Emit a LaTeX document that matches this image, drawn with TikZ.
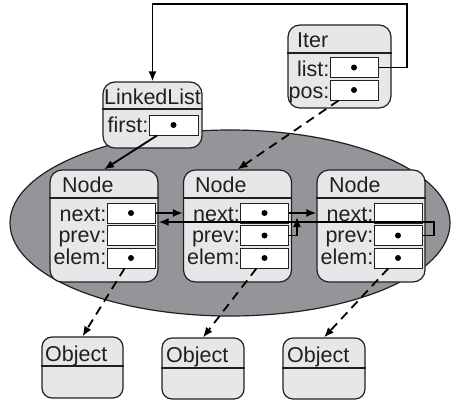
\documentclass[tikz,border=0pt]{standalone}
\usepackage{fontspec}
\setmainfont{Liberation Sans}
\usetikzlibrary{arrows.meta}
\definecolor{boxgray}{RGB}{230,231,232}
\definecolor{blobgray}{RGB}{147,149,152}
\definecolor{ink}{RGB}{35,31,32}

\begin{document}
\begin{tikzpicture}[x=1pt, y=-1pt, >={Latex[length=10pt,width=8pt]},
	font=\fontsize{21.5}{25}\selectfont, text=ink,
	classbox/.style={draw=ink, fill=boxgray, line width=1.2pt, rounded corners=12pt, inner sep=0pt},
	field/.style={draw=ink, fill=white, line width=1pt, minimum width=48pt, minimum height=20pt, inner sep=0pt},
	lbl/.style={inner sep=0pt},
	sep/.style={draw=ink, line width=1.2pt},
	ptr/.style={->, line width=1.8pt, draw=black},
	dptr/.style={ptr, dash pattern=on 9pt off 6pt}]
	\useasboundingbox (0,0) rectangle (457,402);

	\draw[ink, fill=blobgray, line width=1.2pt] (230,223) ellipse [x radius=220, y radius=93];

	% Iter
	\node[classbox, minimum width=103pt, minimum height=83pt] (iter) at (339.5,66.5) {};
	\node[lbl, anchor=base west] (itertitle) at (297,47) {Iter};
	\draw[sep] (iter.west |- 0,53) -- (iter.east |- 0,53);
	\node[field] (itlist) at (354,67.5) {};
	\node[field] (itpos) at (354,90) {};
	\node[lbl, anchor=base east] (itlistlbl) at ([yshift=2pt]itlist.south west) {list:};
	\node[lbl, anchor=base east] (itposlbl) at ([yshift=2pt]itpos.south west) {pos:};

	% LinkedList
	\node[classbox, minimum width=99pt, minimum height=66pt] (linked) at (152.5,115) {};
	\node[lbl, anchor=base] (linkedtitle) at (152.5,104) {LinkedList};
	\draw[sep] (linked.west |- 0,109) -- (linked.east |- 0,109);
	\node[field, minimum width=49pt] (llfirst) at (173.5,125) {};
	\node[lbl, anchor=base east] (llfirstlbl) at ([yshift=3pt]llfirst.south west) {first:};

	% Node 1
	\node[classbox, minimum width=108pt, minimum height=112pt] (node1) at (104,226) {};
	\node[lbl, anchor=base west] (node1title) at (62,192) {Node};
	\draw[sep] (node1.west |- 0,198) -- (node1.east |- 0,198);
	\node[field] (n1next) at (131,213) {};
	\node[field] (n1prev) at (131,235.5) {};
	\node[field] (n1elem) at (131,258) {};
	\node[lbl, anchor=base east] (n1nextlbl) at ([yshift=2pt]n1next.south west) {next:};
	\node[lbl, anchor=base east] (n1prevlbl) at ([yshift=4pt]n1prev.south west) {prev:};
	\node[lbl, anchor=base east] (n1elemlbl) at ([yshift=4pt]n1elem.south west) {elem:};

	% Node 2
	\node[classbox, minimum width=108pt, minimum height=112pt] (node2) at (237.5,226) {};
	\node[lbl, anchor=base west] (node2title) at (195,192) {Node};
	\draw[sep] (node2.west |- 0,198) -- (node2.east |- 0,198);
	\node[field] (n2next) at (264.5,213) {};
	\node[field] (n2prev) at (264.5,235.5) {};
	\node[field] (n2elem) at (264.5,258) {};
	\node[lbl, anchor=base east] (n2nextlbl) at ([yshift=2pt]n2next.south west) {next:};
	\node[lbl, anchor=base east] (n2prevlbl) at ([yshift=4pt]n2prev.south west) {prev:};
	\node[lbl, anchor=base east] (n2elemlbl) at ([yshift=4pt]n2elem.south west) {elem:};

	% Node 3
	\node[classbox, minimum width=108pt, minimum height=112pt] (node3) at (371,226) {};
	\node[lbl, anchor=base west] (node3title) at (329,192) {Node};
	\draw[sep] (node3.west |- 0,198) -- (node3.east |- 0,198);
	\node[field] (n3next) at (398,213) {};
	\node[field] (n3prev) at (398,235.5) {};
	\node[field] (n3elem) at (398,258) {};
	\node[lbl, anchor=base east] (n3nextlbl) at ([yshift=2pt]n3next.south west) {next:};
	\node[lbl, anchor=base east] (n3prevlbl) at ([yshift=4pt]n3prev.south west) {prev:};
	\node[lbl, anchor=base east] (n3elemlbl) at ([yshift=4pt]n3elem.south west) {elem:};

	% Objects
	\node[classbox, rounded corners=10pt, minimum width=81pt, minimum height=61pt] (obj1) at (82.5,367.5) {};
	\node[lbl, anchor=base west] (obj1title) at (45,361) {Object};
	\draw[sep] (obj1.west |- 0,366) -- (obj1.east |- 0,366);
	\node[classbox, rounded corners=10pt, minimum width=82pt, minimum height=61pt] (obj2) at (203,368.5) {};
	\node[lbl, anchor=base west] (obj2title) at (166,362) {Object};
	\draw[sep] (obj2.west |- 0,368) -- (obj2.east |- 0,368);
	\node[classbox, rounded corners=10pt, minimum width=82pt, minimum height=61pt] (obj3) at (324,368.5) {};
	\node[lbl, anchor=base west] (obj3title) at (287,362) {Object};
	\draw[sep] (obj3.west |- 0,368) -- (obj3.east |- 0,368);

	% pointers
	\foreach \f in {itlist,itpos,llfirst,n1next,n1elem,n2next,n2prev,n2elem,n3prev,n3elem}
		\fill[black] (\f) circle (3pt);
	\coordinate (loopR) at (407,4);
	\draw[ptr] (itlist) -| (loopR) -| (linked.north);
	\draw[ptr] (llfirst) -- (node1.north);
	\draw[dptr] (itpos) -- (node2.north);
	\draw[ptr] (n1next) -- (node2.west |- n1next);
	\draw[ptr] (n2next) -- (node3.west |- n2next);
	\coordinate (backR) at (434,222);
	\draw[ptr] (n3prev) -| (backR) -- (node1.east |- backR);
	\coordinate (backM) at (297,217);
	\draw[ptr] (n2prev) -| (backM);
	\draw[dptr] (n1elem) -- (obj1.north);
	\draw[dptr] (n2elem) -- (obj2.north);
	\draw[dptr] (n3elem) -- (obj3.north);
\end{tikzpicture}
\end{document}
